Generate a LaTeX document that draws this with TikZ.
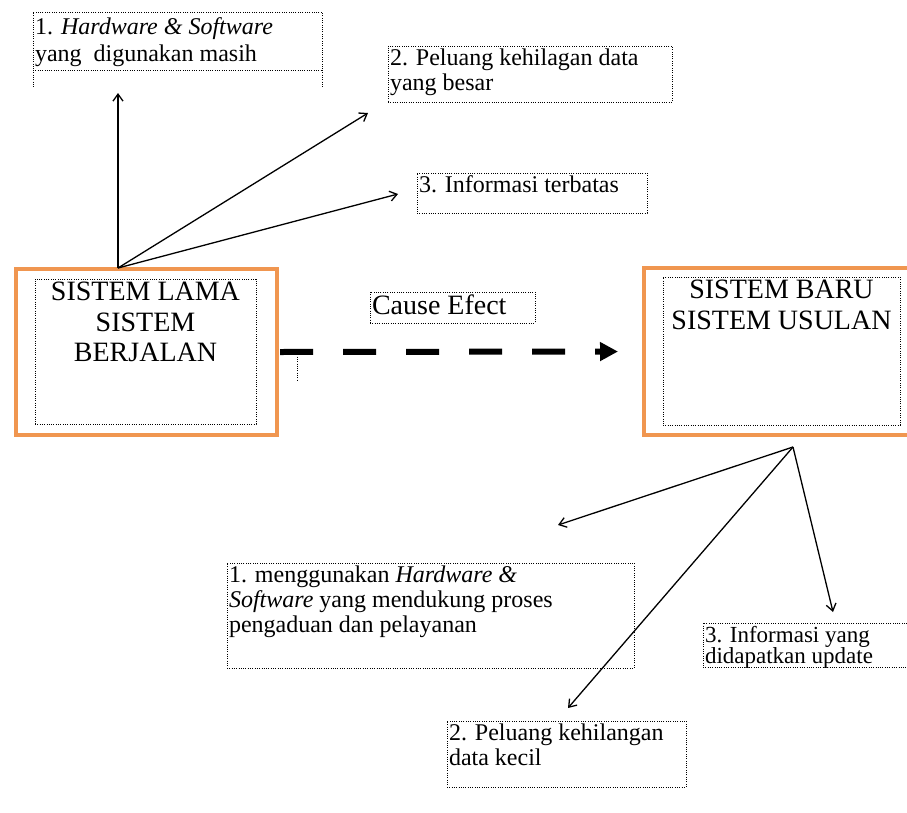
\documentclass[tikz,border=0pt]{standalone}
\usepackage{fontspec}
\setmainfont{Liberation Serif}
\usetikzlibrary{arrows.meta}
\definecolor{boxorange}{RGB}{240,150,80}
\tikzset{
  sysbox/.style={draw=boxorange, line width=4pt, anchor=north west, inner sep=0pt, outer sep=0pt},
  dotbox/.style={draw, line width=1pt, dash pattern=on 1pt off 1.3pt, anchor=north west, inner xsep=2pt, inner ysep=3pt, outer sep=0pt},
  dotline/.style={line width=1pt, dash pattern=on 1pt off 1.3pt},
  thinarrow/.style={line width=1.3pt, -{Straight Barb[length=7pt,width=10pt]}},
  causearrow/.style={line width=6pt, dash pattern=on 33pt off 30pt, shorten <=3pt, shorten >=26pt, -{Triangle[length=18pt,width=18pt]}},
  bigtext/.style={font=\fontsize{28}{30.5}\selectfont},
  smalltext/.style={font=\fontsize{24}{25}\selectfont},
}
\begin{document}
\begin{tikzpicture}[x=1pt,y=-1pt]
\useasboundingbox (0,0) rectangle (907,812);
\clip (0,0) rectangle (907,812);
\fill[white] (0,0) rectangle (907,812);

% the two systems
\node (lama) [sysbox, minimum width=261.5pt, minimum height=166pt] at (15.5,269) {};
\node (baru) [sysbox, minimum width=280pt, minimum height=167pt] at (644,268) {};
\node (lamatxt) [dotbox, bigtext] at (35,279) {\parbox[t][139pt][t]{217pt}{\centering SISTEM LAMA\\ SISTEM\\ BERJALAN}};
\node (barutxt) [dotbox, bigtext] at (663,277) {\parbox[t][142pt][t]{233pt}{\centering SISTEM BARU\\ SISTEM USULAN}};

% cause effect
\node (cause) [dotbox, bigtext] at (370,292) {\parbox[t][25pt][t]{161pt}{Cause Efect}};
\draw [causearrow] (lama.east) -- (baru.west);
\draw [dotline] (297,352) -- (297,380);

% old system problems
\node (hw) [dotbox, smalltext, inner ysep=6pt] at (33,12) {\parbox[t][46pt][t]{285pt}{\fontsize{24}{27}\selectfont 1. \textit{Hardware \& Software}\\ yang\ \ digunakan masih}};
\draw [dotline] (hw.south west) -- ++(0,18);
\draw [dotline] (hw.south east) -- ++(0,18);
\node (loss1) [dotbox, smalltext] at (388,46) {\parbox[t][50pt][t]{280pt}{2. Peluang kehilagan data\\ yang besar}};
\node (info1) [dotbox, smalltext] at (417,173) {\parbox[t][34pt][t]{226pt}{3. Informasi terbatas}};

\coordinate (lamaTop) at (118,268);
\coordinate (hwTip) at (118,93);
\coordinate (loss1Tip) at (368,113);
\coordinate (info1Tip) at (398,194);
\draw [thinarrow] (lamaTop) -- (hwTip);
\draw [thinarrow] (lamaTop) -- (loss1Tip);
\draw [thinarrow] (lamaTop) -- (info1Tip);

% new system benefits
\node (hw2) [dotbox, smalltext] at (227,563) {\parbox[t][99pt][t]{403pt}{1. menggunakan \textit{Hardware \&}\\ \textit{Software} yang mendukung proses\\ pengaduan dan pelayanan}};
\node (loss2) [dotbox, smalltext] at (447,721) {\parbox[t][60pt][t]{235pt}{2. Peluang kehilangan\\ data kecil}};
\node (info2) [dotbox, smalltext] at (703,623) {\parbox[t][38pt][t]{213pt}{\fontsize{23}{21}\selectfont 3. Informasi yang\\ didapatkan update}};

\coordinate (baruBot) at (793,447);
\coordinate (hw2Tip) at (558,525);
\coordinate (loss2Tip) at (568,708);
\coordinate (info2Tip) at (833,612);
\draw [thinarrow] (baruBot) -- (hw2Tip);
\draw [thinarrow] (baruBot) -- (loss2Tip);
\draw [thinarrow] (baruBot) -- (info2Tip);
\end{tikzpicture}
\end{document}
